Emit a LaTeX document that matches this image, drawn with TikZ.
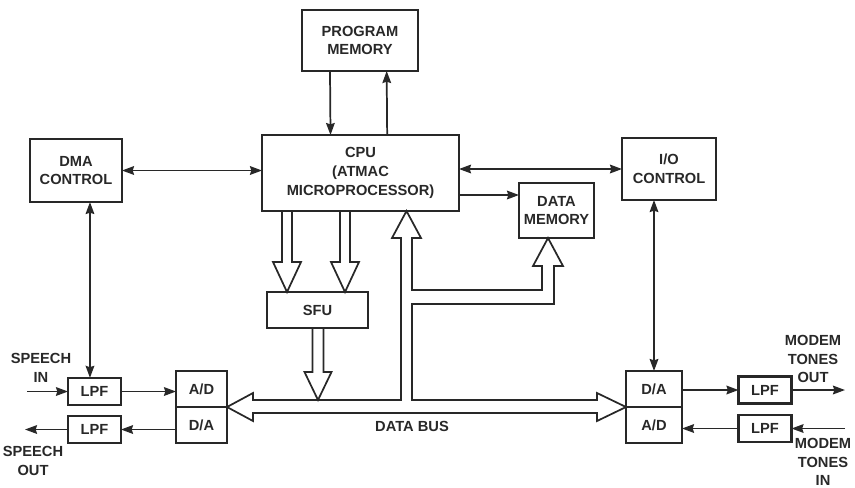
\documentclass[tikz,border=0pt]{standalone}
\usepackage{fontspec}
\setmainfont{Liberation Sans}
\usepackage{xcolor}
\usepackage{tikz}
\usetikzlibrary{arrows.meta, positioning, calc}
\definecolor{DiagInk}{RGB}{40, 40, 40}

\tikzset{
  blk/.style={draw=DiagInk, line width=1.9pt, align=center, inner sep=1pt, outer sep=0pt, text=DiagInk},
  filt/.style={blk, minimum width=39.75pt, minimum height=20.5pt},
  conv/.style={blk, minimum width=39pt, minimum height=27pt},
  sig/.style={draw=DiagInk, line width=1.3pt},
  onehead/.style={-{Stealth[length=9pt,width=6.5pt,inset=1pt]}},
  twohead/.style={{Stealth[length=9pt,width=6.5pt,inset=1pt]}-{Stealth[length=9pt,width=6.5pt,inset=1pt]}},
  fat/.style={draw=DiagInk, line width=1.3pt, line join=miter},
  lbl/.style={align=center, text=DiagInk, inner sep=0pt}
}

\begin{document}
\begin{tikzpicture}[x=0.75pt, y=-0.75pt, font=\fontsize{11}{14}\selectfont\bfseries]
  \path[use as bounding box] (0,0) rectangle (855,487);

  % processor blocks
  \node[blk, minimum width=87pt, minimum height=45.75pt] (pmem) at (360,40.5) {PROGRAM\\MEMORY};
  \node[blk, minimum width=147.75pt, minimum height=57pt] (cpu) at (360.5,173) {CPU\\(ATMAC\\MICROPROCESSOR)};
  \node[blk, minimum width=69pt, minimum height=47.25pt] (dma) at (76,170.5) {DMA\\CONTROL};
  \node[blk, minimum width=70.5pt, minimum height=46.5pt] (ioc) at (669,169) {I/O\\CONTROL};
  \node[blk, minimum width=56.25pt, minimum height=41.25pt] (dmem) at (556.5,210.5) {DATA\\MEMORY};
  \node[blk, minimum width=75.75pt, minimum height=27pt] (sfu) at (317.5,310) {SFU};

  % speech side
  \node[filt] (lpfsi) at (94.5,391.5) {LPF};
  \node[filt] (lpfso) at (94.5,429.5) {LPF};
  \node[conv, minimum width=38.25pt] (adl) at (201.5,389) {A/D};
  \node[conv, minimum width=38.25pt, below=0pt of adl] (dal) {D/A};

  % modem side
  \node[conv, minimum width=42pt] (dar) at (654,389) {D/A};
  \node[conv, minimum width=42pt, below=0pt of dar] (adr) {A/D};
  \node[filt] (lpfmo) at (765,390) {LPF};
  \node[filt] (lpfmi) at (765,428.5) {LPF};

  % labels
  \node[lbl] (spinlbl) at (41,368) {SPEECH\\IN};
  \node[lbl] (spoutlbl) at (33,461) {SPEECH\\OUT};
  \node[lbl] (moutlbl) at (813,359) {MODEM\\TONES\\OUT};
  \node[lbl] (minlbl) at (823,462) {MODEM\\TONES\\IN};
  \node[lbl] (buslbl) at (412,426) {DATA BUS};

  % control lines
  \draw[sig, onehead] ([xshift=-22.5pt]pmem.south) -- ([xshift=-22.5pt]cpu.north);
  \draw[sig, onehead] ([xshift=20pt]cpu.north) -- ([xshift=20pt]pmem.south);
  \draw[sig, twohead] (dma.east) -- (dma.east -| cpu.west);
  \draw[sig, twohead] (cpu.east |- ioc.west) -- (ioc.west);
  \coordinate (dmin) at ([yshift=-9pt]dmem.north west);
  \draw[sig, onehead] (cpu.east |- dmin) -- (dmin);
  \coordinate (dmadn) at ([xshift=-3.4pt]lpfsi.north);
  \draw[sig, twohead] (dmadn) -- (dmadn |- dma.south);
  \draw[sig, twohead] (dar.north) -- (dar.north |- ioc.south);

  % signal paths
  \coordinate (spin) at (27,391.5);
  \coordinate (spout) at (25,429.5);
  \coordinate (mout) at (845,390);
  \coordinate (min) at (845,428.5);
  \draw[sig, onehead] (spin) -- (lpfsi.west);
  \draw[sig, onehead] (lpfsi.east) -- (lpfsi.east -| adl.west);
  \draw[sig, onehead] (lpfso.east -| dal.west) -- (lpfso.east);
  \draw[sig, onehead] (lpfso.west) -- (spout);
  \draw[sig, onehead] (dar.east |- lpfmo.west) -- (lpfmo.west);
  \draw[sig, onehead] (lpfmo.east) -- (mout);
  \draw[sig, onehead] (min) -- (lpfmi.east);
  \draw[sig, onehead] (lpfmi.west) -- (lpfmi.west -| adr.east);

  % wide paths into and out of the SFU
  \foreach \cx in {287,345} {
    \draw[fat] ({\cx-5},211) -- ({\cx-5},262) -- ({\cx-14},262) -- (\cx,292)
      -- ({\cx+14},262) -- ({\cx+5},262) -- ({\cx+5},211);
  }
  \draw[fat] (312.5,328) -- (312.5,372) -- (304.5,372) -- (318,400)
    -- (331.5,372) -- (323.5,372) -- (323.5,328);

  % data bus
  \draw[fat] (253,400) -- (401,400) -- (401,238) -- (392,238) -- (406.5,211)
    -- (421,238) -- (412,238) -- (412,290) -- (542,290) -- (542,266)
    -- (533,266) -- (548,238) -- (563,266) -- (554,266) -- (554,304)
    -- (412,304) -- (412,400) -- (597,400) -- (597,393) -- (626,407)
    -- (597,421) -- (597,413) -- (253,413) -- (253,421) -- (227,407)
    -- (253,393) -- cycle;
\end{tikzpicture}
\end{document}
